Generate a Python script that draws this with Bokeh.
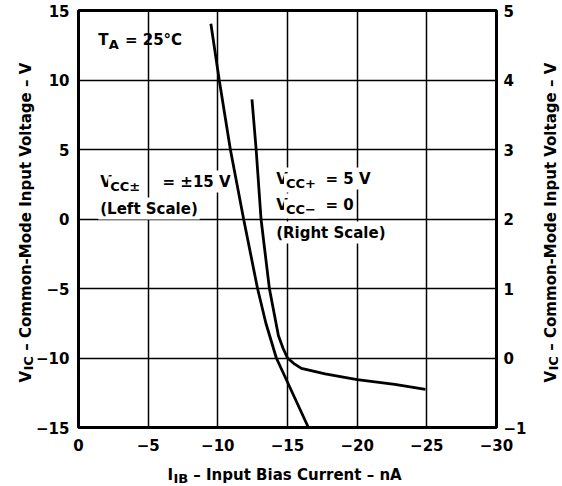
import math
from bokeh.plotting import figure
from bokeh.models import Range1d, LinearAxis, FixedTicker, Label
from bokeh.embed import file_html
from bokeh.resources import INLINE

# ---- data ----
x_ticks = [0, -5, -10, -15, -20, -25, -30]
x_tick_labels = ["0", "\u22125", "\u221210", "\u221215", "\u221220", "\u221225", "\u221230"]
left_ticks = [-15, -10, -5, 0, 5, 10, 15]
left_tick_labels = ["\u221215", "\u221210", "\u22125", "0", "5", "10", "15"]
right_ticks = [-1, 0, 1, 2, 3, 4, 5]
right_tick_labels = ["\u22121", "0", "1", "2", "3", "4", "5"]

# VCC± = ±15 V (left scale)
iib_dual = [-9.5, -10.1, -10.9, -11.85, -12.85, -13.45, -14.2, -15.35, -16.5]
vic_dual = [14.05, 10.0, 5.0, 0.0, -5.0, -7.5, -10.0, -12.5, -15.0]
# VCC+ = 5 V, VCC- = 0 (right scale)
iib_single = [-12.45, -12.75, -13.1, -13.7, -14.35, -14.68, -15.0, -15.46, -16.0, -17.7, -20.0, -22.7, -24.9]
vic_single = [3.72, 3.0, 2.0, 1.0, 0.32, 0.14, 0.0, -0.08, -0.15, -0.23, -0.31, -0.38, -0.45]

FONT = "DejaVu Sans"
W, H = 562, 486
BL, BR, BT, BB = 77, 62, 10, 59

p = figure(width=W, height=H, output_backend="svg", toolbar_location=None,
           x_range=Range1d(0, -30), y_range=Range1d(-15, 15),
           min_border_left=BL, min_border_right=BR, min_border_top=BT, min_border_bottom=BB,
           background_fill_color="white", border_fill_color="white")
p.extra_y_ranges = {"right": Range1d(-1, 5)}
right_axis = LinearAxis(y_range_name="right")
p.add_layout(right_axis, "right")

p.outline_line_color = "black"
p.outline_line_width = 3

for ax in [p.xaxis[0], p.left[0], right_axis]:
    ax.major_tick_line_color = None
    ax.minor_tick_line_color = None
    ax.axis_line_color = None
    ax.major_label_text_font = FONT
    ax.major_label_text_font_style = "bold"
    ax.major_label_text_font_size = "15px"
    ax.major_label_text_color = "black"

p.xaxis[0].ticker = FixedTicker(ticks=x_ticks)
p.xaxis[0].major_label_overrides = dict(zip(x_ticks, x_tick_labels))
p.xaxis[0].major_label_standoff = 5
p.left[0].ticker = FixedTicker(ticks=left_ticks)
p.left[0].major_label_overrides = dict(zip(left_ticks, left_tick_labels))
p.left[0].major_label_standoff = 3
right_axis.ticker = FixedTicker(ticks=right_ticks)
right_axis.major_label_overrides = dict(zip(right_ticks, right_tick_labels))
right_axis.major_label_standoff = 1

p.xgrid.ticker = FixedTicker(ticks=x_ticks)
p.ygrid.ticker = FixedTicker(ticks=left_ticks)
for g in [p.xgrid[0], p.ygrid[0]]:
    g.grid_line_color = "black"
    g.grid_line_width = 1.5
    g.grid_line_alpha = 1.0

p.line(iib_dual, vic_dual, line_color="black", line_width=2.8)
p.line(iib_single, vic_single, line_color="black", line_width=2.8, y_range_name="right")

# frame geometry in canvas pixels (for placing text)
FL, FR, FT, FB = BL, W - BR, BT, H - BB
def X(px):
    return (px - FL) / (FR - FL) * (-30.0)
def Y(py):
    return 15.0 - (py - FT) / (FB - FT) * 30.0

def lab(text, x, y, size=15, angle=0.0, bg=False, side=None):
    kw = dict(text=text, text_font=FONT, text_font_size=f"{size}px",
              text_font_style="bold", text_color="black",
              text_align="left", text_baseline="alphabetic", angle=angle)
    if side is None:
        kw.update(x=X(x), y=Y(y))
    else:
        kw.update(x=x, y=y, x_units="canvas", y_units="canvas")
    if bg:
        kw.update(background_fill_color="white", padding=2)
    if side is None:
        p.add_layout(Label(**kw))
    else:
        p.add_layout(Label(**kw), side)

# in-frame annotations
lab("T", 97, 39)
lab("A", 107.5, 43.5, size=13)
lab("= 25\u00b0C", 124, 39)

lab("V", 97, 181, bg=True)
lab("CC\u00b1", 107, 185.5, size=13, bg=True)
lab("= \u00b115 V", 160, 181, bg=True)
lab("(Left Scale)", 97, 208, bg=True)

lab("V", 275, 178, bg=True)
lab("CC+", 285, 182.5, size=13, bg=True)
lab("= 5 V", 325, 178, bg=True)
lab("V", 275, 204, bg=True)
lab("CC\u2212", 285, 208.5, size=13, bg=True)
lab("= 0", 325, 204, bg=True)
lab("(Right Scale)", 275, 232, bg=True)

# axis titles: canvas-unit labels kept in the side panels so they are not clipped
EM = "\u2003"
ROT = math.pi / 2
y0 = 382
lab("I" + EM + " \u2013 Input Bias Current \u2013 nA", 167, 474, side="below")
lab("IB", 173, 477.5, size=13, side="left")
lab("V" + EM + " \u2013 Common-Mode Input Voltage \u2013 V", 25, y0, angle=ROT, side="left")
lab("IC", 28, y0 - 12, size=13, angle=ROT, side="below")
lab("V" + EM + " \u2013 Common-Mode Input Voltage \u2013 V", 550, y0, angle=ROT, side="right")
lab("IC", 553, y0 - 12, size=13, angle=ROT, side="right")

open("out.html", "w").write(file_html(p, INLINE))
